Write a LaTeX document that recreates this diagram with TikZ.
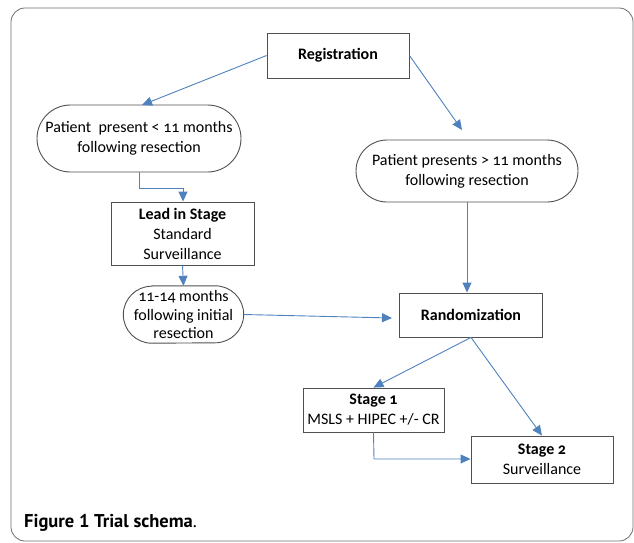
\documentclass[tikz,border=0pt]{standalone}
\usepackage{fontspec}
\setmainfont{Carlito}[Numbers=OldStyle]
\newfontfamily\capfont{PT Sans}
\usetikzlibrary{shapes.misc,arrows.meta}
\definecolor{arrowblue}{RGB}{79,129,189}
\definecolor{boxgray}{RGB}{80,80,80}
\definecolor{framegray}{RGB}{110,110,110}
\tikzset{
  box/.style={draw=boxgray,line width=0.9pt,rectangle,inner sep=0pt,align=center,
    font=\fontsize{16}{20}\selectfont},
  pill/.style={draw=boxgray,line width=0.9pt,rounded rectangle,inner sep=0pt,align=center,
    font=\fontsize{16}{20}\selectfont},
  pilltext/.style={rectangle,inner sep=0pt,align=center,font=\fontsize{16}{18.5}\selectfont},
  outline/.style={draw=boxgray,line width=0.9pt},
  conn/.style={draw=arrowblue,line width=0.9pt,-{Triangle[length=10pt,width=9pt]}},
}
\begin{document}
\begin{tikzpicture}[x=1pt,y=-1pt]
\useasboundingbox (0,0) rectangle (634,543);
\draw[framegray,line width=0.8pt,rounded corners=14pt] (11,8) rectangle (633,541);

\node[box,minimum width=142pt,minimum height=45pt] (reg) at (338,55.5) {\bfseries Registration};
\node[pill,minimum width=204pt,minimum height=67pt] (pl) at (139,138.5) {Patient\ \ present < 11 months\\following resection};
\node[pill,minimum width=222pt,minimum height=62pt] (pg) at (467,171) {Patient presents > 11 months\\following resection};
\node[box,minimum width=143pt,minimum height=63pt] (lead) at (182.5,233.5) {\bfseries Lead in Stage\\Standard\\Surveillance};
\node[pilltext,minimum width=120pt,minimum height=57pt] (m) at (183.5,314.5) {11-14 months\\following initial\\resection};
\draw[outline] ([xshift=28.5pt]m.north west) -- ([xshift=-28.5pt]m.north east)
  arc[start angle=90,end angle=-90,radius=28.5pt]
  -- ([xshift=28.5pt]m.south west)
  arc[start angle=270,end angle=90,radius=28.5pt] -- cycle;
\node[box,minimum width=143pt,minimum height=44pt] (rand) at (471,315) {\bfseries Randomization};
\node[box,minimum width=141pt,minimum height=44pt] (s1) at (373.5,410) {\bfseries Stage 1\\MSLS + HIPEC +/- CR};
\node[box,minimum width=142pt,minimum height=47pt] (s2) at (542,459.5) {\bfseries Stage 2\\Surveillance};

\coordinate (pltop) at (142,105);
\coordinate (pgend) at (462,130);
\coordinate (randin) at (392,318);
\coordinate (elb1) at (139,188);
\coordinate (elb2) at (183,188);
\coordinate (elb3) at (374,459);

\draw[conn] (reg.west) -- (pltop);
\draw[conn] (reg.east) -- (pgend);
\draw[conn] (pl.south) -- (elb1) -- (elb2) -- (lead.north -| elb2);
\draw[conn] (lead.south) -- (m.north);
\draw[conn] (m.east) -- (randin);
\draw[conn] (pg.south) -- (rand.north -| pg.south);
\draw[conn] (rand.south) -- (s1.north);
\draw[conn] (rand.south) -- (s2.north);
\draw[conn] (s1.south) -- (elb3) -- (s2.west |- elb3);

\node[anchor=base west,inner sep=0pt,font=\capfont\fontsize{18.5}{20}\selectfont] (cap) at (24,527) {\bfseries Figure 1 Trial schema\mdseries .};
\end{tikzpicture}
\end{document}
